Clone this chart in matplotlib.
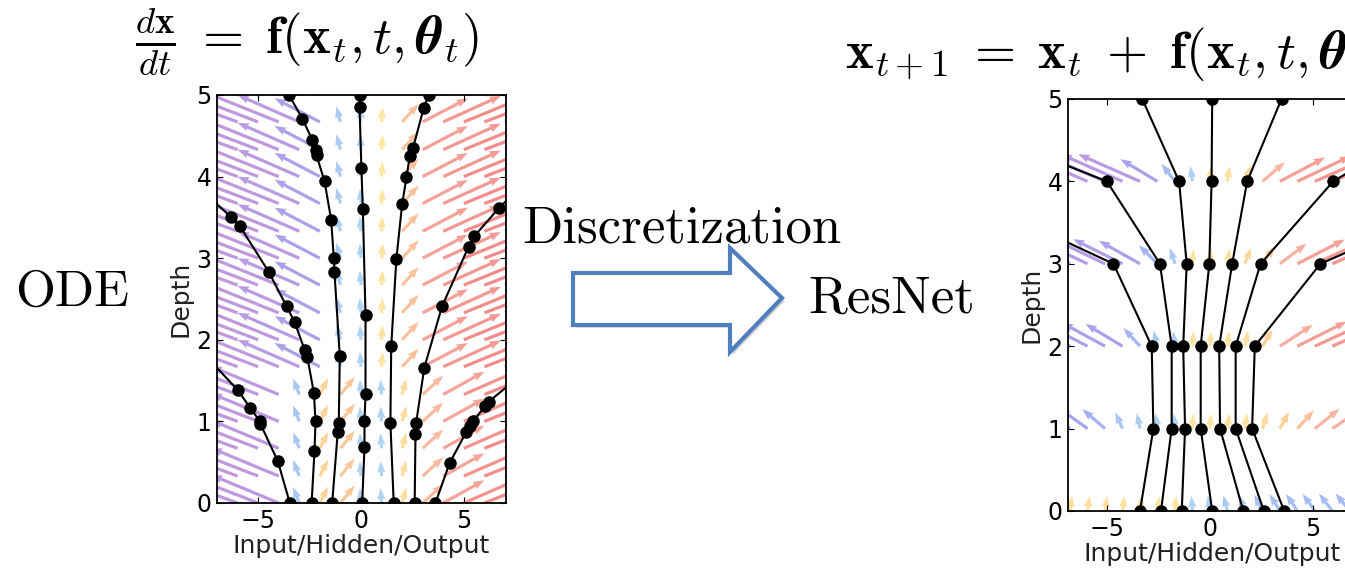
import matplotlib
matplotlib.use("Agg")
import matplotlib.pyplot as plt
import numpy as np
from matplotlib.colors import LinearSegmentedColormap, Normalize
from matplotlib.patches import Polygon
import matplotlib.patheffects as pe

plt.rcParams["mathtext.fontset"] = "cm"
plt.rcParams["font.family"] = "DejaVu Sans"

W, H = 1345, 571

# ---------------- data ----------------
# ODE panel: vector field grid and horizontal component per column
ode_cols = [-7, -6, -5, -4, -3, -2, -1, 0, 1, 2, 3, 4, 5, 6, 7]
ode_rows = [0.0, 0.33, 0.67, 1.0, 1.33, 1.67, 2.0, 2.33, 2.67, 3.0, 3.33, 3.67, 4.0, 4.33, 4.67, 5.0]
ode_u_low = [-4.5, -4.2, -3.8, -3.3, -0.3, 0.4, 0.7, -0.05, -0.05, 0.2, 1.0, 2.0, 3.0, 3.6, 4.2]
ode_u_high = [-4.5, -4.2, -3.9, -3.5, -3.0, -2.2, -0.2, -0.05, 0.05, 0.8, 2.2, 2.8, 3.4, 3.9, 4.4]
ode_split = 1.5

# ODE trajectories (solver steps)
ode_traj = [
    ([-3.46, -4.04, -4.89, -4.91, -5.4, -5.98, -7.53], [0, 0.51, 0.97, 1.0, 1.17, 1.38, 1.8]),
    ([-2.4, -2.26, -2.21, -2.29, -2.61, -2.73, -3.23, -3.62, -4.48, -5.88, -6.3, -7.6],
     [0, 0.64, 1.0, 1.35, 1.79, 1.87, 2.22, 2.41, 2.83, 3.39, 3.5, 3.8]),
    ([-1.4, -1.13, -1.08, -1.03, -1.29, -1.32, -1.45, -1.77, -2.16, -2.21, -2.37, -2.85, -3.5],
     [0, 0.87, 0.98, 1.8, 2.83, 3.0, 3.47, 3.94, 4.26, 4.33, 4.45, 4.71, 5.0]),
    ([0.06, 0.17, 0.17, 0.22, 0.22, 0.09, 0.02, -0.07, -0.07], [0, 0.69, 1.0, 1.34, 2.3, 3.6, 4.11, 4.85, 5.0]),
    ([1.59, 1.43, 1.47, 1.72, 2.0, 2.21, 2.37, 2.53, 3.05, 3.29], [0, 0.98, 1.92, 2.99, 3.66, 3.99, 4.25, 4.35, 4.84, 5.0]),
    ([2.61, 2.65, 2.68, 3.08, 3.94, 5.23, 5.51, 6.69, 7.65], [0, 0.85, 0.98, 1.66, 2.41, 3.14, 3.27, 3.61, 3.85]),
    ([3.62, 4.31, 5.12, 5.32, 5.45, 6.04, 6.2, 7.7], [0, 0.49, 0.87, 0.94, 1.0, 1.19, 1.24, 1.55]),
]

# ResNet panel: field only at the layers
res_cols = [-6.8, -5.95, -5.1, -4.25, -3.4, -2.55, -1.7, -0.85, 0.0, 0.85, 1.7, 2.55, 3.4, 4.25, 5.1, 5.95, 6.8]
res_layers = [0, 1, 2, 3, 4]
res_u = [
    [0.1, 0.1, 0.1, 0.1, 0.1, 0.08, 0.05, -0.05, -0.1, -0.2, -0.3, -0.4, -0.5, -0.55, -0.6, -0.65, -0.7],
    [-1.6, -1.4, -1.1, -0.35, -0.15, -0.1, -0.05, 0.05, 0.05, 0.1, 0.1, 0.25, 0.45, 0.8, 1.2, 1.5, 1.8],
    [-2.4, -2.3, -2.1, -1.8, -0.8, -0.2, -0.1, 0.05, 0.05, 0.08, 0.15, 0.5, 1.6, 2.4, 2.8, 3.0, 3.2],
    [-2.8, -2.7, -2.6, -2.4, -2.0, -0.9, -0.25, 0.05, 0.05, 0.1, 0.3, 0.6, 1.3, 2.3, 2.8, 3.0, 3.2],
    [-3.3, -3.2, -3.1, -3.0, -3.0, -1.8, -0.65, -0.1, 0.05, 0.1, 0.3, 1.1, 2.2, 2.6, 3.0, 3.2, 3.5],
]

# ResNet hidden states at depth 0..5 (off-axis values where the line leaves the plot)
res_depth = [0, 1, 2, 3, 4, 5]
res_traj = [
    [-3.4, -2.75, -2.83, -4.69, -13.3, np.nan],
    [-2.38, -1.86, -1.86, -2.43, -5.01, -15.1],
    [-1.37, -1.21, -1.3, -1.13, -1.5, -3.29],
    [0.11, -0.45, -0.45, -0.03, 0.08, 0.11],
    [1.62, 0.49, 0.45, 1.08, 1.81, 3.48],
    [2.62, 1.25, 1.25, 2.46, 5.99, 12.7],
    [3.61, 2.05, 2.18, 5.37, 14.5, np.nan],
]

# ---------------- styling ----------------
cmap = LinearSegmentedColormap.from_list("field", [
    (0.0, "#b07ed8"), (0.28, "#8f8cec"), (0.44, "#8fb3f0"), (0.499, "#9ccaf0"),
    (0.501, "#fde08a"), (0.57, "#fdc27a"), (0.67, "#f6a08e"), (1.0, "#ef6f6f")])
norm = Normalize(-3.5, 3.5)


def axbox(l, t, r, b):
    return [l / W, 1 - b / H, (r - l) / W, (b - t) / H]


def style_axes(ax):
    ax.set_ylim(0, 5)
    ax.set_xticks([-5, 0, 5])
    ax.set_yticks([0, 1, 2, 3, 4, 5])
    ax.tick_params(direction="in", length=4, labelsize=17, top=True, right=True, pad=4)
    for s in ax.spines.values():
        s.set_linewidth(1.3)
    ax.set_xlabel("Input/Hidden/Output", fontsize=18, labelpad=1, color="#222222")
    ax.set_ylabel("Depth", fontsize=18, labelpad=3, color="#222222")


def vlen(u):
    return 0.18 + 0.05 * np.abs(u)


fig = plt.figure(figsize=(W / 100, H / 100), dpi=100)

# ---------- ODE panel ----------
ax1 = fig.add_axes(axbox(217, 95, 506, 503))
X, T = np.meshgrid(ode_cols, ode_rows)
U = np.where(T < ode_split, np.array(ode_u_low)[None, :], np.array(ode_u_high)[None, :])
ax1.quiver(X, T, U, vlen(U), U, cmap=cmap, norm=norm, angles="xy", scale_units="xy",
           scale=1, width=0.011, headwidth=2.6, headlength=3.6, headaxislength=3.3,
           alpha=0.8, zorder=1)
for xs, ts in ode_traj:
    ax1.plot(xs, ts, "-", color="black", lw=1.5, zorder=3)
    ax1.plot(xs, ts, "o", color="black", ms=8, zorder=4)
ax1.set_xlim(-7, 7.05)
style_axes(ax1)

# ---------- ResNet panel ----------
ax2 = fig.add_axes(axbox(1068, 99, 1356, 511))
Xr, Tr = np.meshgrid(res_cols, res_layers)
Ur = np.array(res_u)
ax2.quiver(Xr, Tr, Ur, vlen(Ur), Ur, cmap=cmap, norm=norm, angles="xy", scale_units="xy",
           scale=1, width=0.011, headwidth=2.6, headlength=3.6, headaxislength=3.3,
           alpha=0.8, zorder=1)
for xs in res_traj:
    ax2.plot(xs, res_depth, "-", color="black", lw=1.5, zorder=3)
    ax2.plot(xs, res_depth, "o", color="black", ms=8, zorder=4)
ax2.set_xlim(-6.9, 7.1)
style_axes(ax2)

# ---------- text ----------
fig.text(15 / W, 1 - 306 / H, "ODE", fontsize=37, family="cmr10", va="baseline")
fig.text(522 / W, 1 - 243 / H, "Discretization", fontsize=38, family="cmr10", va="baseline")
fig.text(808 / W, 1 - 313 / H, "ResNet", fontsize=38, family="cmr10", va="baseline")
fig.text(135 / W, 1 - 42 / H,
         r"$\frac{d\mathbf{x}}{dt}\;=\;\mathbf{f}(\mathbf{x}_t, t, \boldsymbol{\theta}_t)$",
         fontsize=38, va="center")
fig.text(845 / W, 1 - 68 / H,
         r"$\mathbf{x}_{t+1}\;=\;\mathbf{x}_t\;+\;\mathbf{f}(\mathbf{x}_t, t, \boldsymbol{\theta}_t)$",
         fontsize=38, va="baseline")

# block arrow
pts = [(573, 273), (730, 273), (730, 248), (782, 298), (730, 352), (730, 325), (573, 325)]
arrow = Polygon([(x / W, 1 - y / H) for x, y in pts], closed=True, transform=fig.transFigure,
                facecolor="white", edgecolor="#4f7fbd", lw=3, joinstyle="miter",
                path_effects=[pe.withSimplePatchShadow(offset=(2, -2), alpha=0.25)])
fig.add_artist(arrow)

fig.savefig("out.png", dpi=100)
